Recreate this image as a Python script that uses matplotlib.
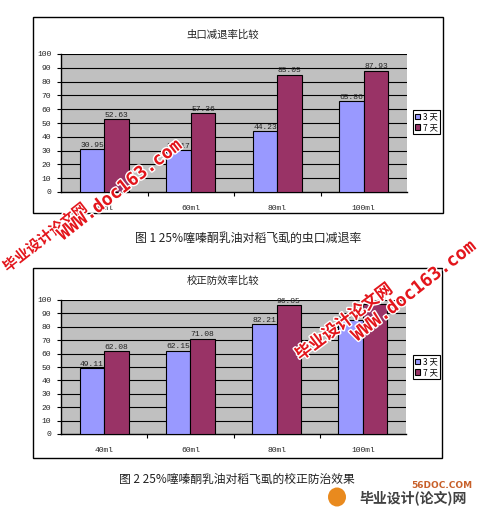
import matplotlib
matplotlib.use("Agg")
import matplotlib.pyplot as plt
import matplotlib.patches as mpatches
import matplotlib.patheffects as pe
import numpy as np

# ---------------- data ----------------
categories = ["40ml", "60ml", "80ml", "100ml"]
series_names = ["3 天", "7 天"]

chart1_title = "虫口减退率比较"
chart1_day3 = [30.95, 30.17, 44.23, 65.86]
chart1_day7 = [52.63, 57.36, 85.05, 87.93]
caption1 = "图 1 25%噻嗪酮乳油对稻飞虱的虫口减退率"

chart2_title = "校正防效率比较"
chart2_day3 = [49.11, 62.15, 82.21, 85.12]
chart2_day7 = [62.08, 71.08, 96.05, 97.31]
caption2 = "图 2 25%噻嗪酮乳油对稻飞虱的校正防治效果"

yticks = [0, 10, 20, 30, 40, 50, 60, 70, 80, 90, 100]

# ---------------- style ----------------
W, H = 484, 511
CJK = ["Noto Sans CJK SC", "DejaVu Sans"]
MONO = "Liberation Mono"
C3 = "#9999FF"
C7 = "#993366"
PLOT_BG = "#C0C0C0"

fig = plt.figure(figsize=(W / 100, H / 100), dpi=100)
fig.patch.set_facecolor("white")


def fx(px):
    return px / W


def fy(py):
    return 1 - py / H


def draw_chart(box, plot, title, title_xy, v3, v7, legend_box):
    x0, y0, x1, y1 = box
    fig.add_artist(mpatches.Rectangle((fx(x0), fy(y1)), fx(x1) - fx(x0), fy(y0) - fy(y1),
                                      transform=fig.transFigure, facecolor="white",
                                      edgecolor="black", lw=1.0, zorder=0))
    px0, py0, px1, py1 = plot
    ax = fig.add_axes([fx(px0), fy(py1), fx(px1) - fx(px0), fy(py0) - fy(py1)])
    ax.set_facecolor(PLOT_BG)
    x = np.arange(len(categories))
    w = 0.283
    b3 = ax.bar(x - w / 2, v3, w, color=C3, edgecolor="black", lw=0.8, zorder=3, label=series_names[0])
    b7 = ax.bar(x + w / 2, v7, w, color=C7, edgecolor="black", lw=0.8, zorder=3, label=series_names[1])
    for bars, vals in ((b3, v3), (b7, v7)):
        for r, v in zip(bars, vals):
            ax.annotate(f"{v:.2f}", (r.get_x() + r.get_width() / 2, v), xytext=(0, 0.2),
                        textcoords="offset points", ha="center", va="bottom",
                        fontsize=5.8, family=MONO, color="#222222", zorder=4)
    ax.set_xlim(-0.5, len(categories) - 0.5)
    ax.set_ylim(0, 100)
    ax.set_yticks(yticks)
    ax.set_yticklabels([str(t) for t in yticks], family=MONO, fontsize=5.8, color="#222222")
    for t in yticks[1:]:
        ax.axhline(t, color="black", lw=0.8, zorder=1)
    ax.set_xticks(x)
    ax.set_xticklabels(categories, family=MONO, fontsize=5.8, color="#222222")
    ax.set_xticks(x[:-1] + 0.5, minor=True)
    ax.tick_params(axis="x", which="major", length=0, pad=9)
    ax.tick_params(axis="x", which="minor", length=3, width=0.8, direction="out")
    ax.tick_params(axis="y", length=3, width=0.8, pad=4)
    for s in ("top", "right"):
        ax.spines[s].set_visible(False)
    ax.spines["left"].set_linewidth(1.0)
    ax.spines["bottom"].set_linewidth(1.0)
    fig.text(fx(title_xy[0]), fy(title_xy[1]), title, ha="center", va="center",
             fontsize=7.5, family=CJK, color="#222222")
    lx, ly = legend_box
    leg = ax.legend(loc="center left", bbox_to_anchor=(fx(lx), fy(ly)),
                    bbox_transform=fig.transFigure, prop={"family": CJK, "size": 6},
                    handlelength=0.6, handleheight=0.6, borderpad=0.25,
                    handletextpad=0.3, labelspacing=0.2, borderaxespad=0,
                    fancybox=False, framealpha=1, edgecolor="black")
    leg.get_frame().set_linewidth(0.8)
    return ax


draw_chart((33, 17, 443, 213), (61, 54, 407, 192), chart1_title, (223, 35),
           chart1_day3, chart1_day7, (413, 122))
fig.text(fx(248), fy(238), caption1, ha="center", va="center", fontsize=8.6,
         family=CJK, color="#222222")

draw_chart((33, 268, 442, 458), (61, 300, 406, 434), chart2_title, (223, 281),
           chart2_day3, chart2_day7, (413, 367))
fig.text(fx(237), fy(479), caption2, ha="center", va="center", fontsize=8.5,
         family=CJK, color="#222222")

# ---------------- watermarks ----------------
wm_color = "#E3161C"
stroke = [pe.withStroke(linewidth=2, foreground="white")]
wm = [
    ("毕业设计论文网", (45, 237), 38, CJK, 10.5),
    ("WWW.doc163.com", (120, 190), 38, ["DejaVu Sans Mono"], 13),
    ("毕业设计论文网", (344, 322), 37, CJK, 12),
    ("WWW.doc163.com", (414, 291), 38, ["DejaVu Sans Mono"], 13),
]
for txt, (cx, cy), ang, fam, fs in wm:
    fig.text(fx(cx), fy(cy), txt, ha="center", va="center", rotation=ang,
             rotation_mode="anchor", fontsize=fs, fontweight="bold", family=fam,
             color=wm_color, path_effects=stroke, zorder=10)

# bottom-right site logo
fig.add_artist(mpatches.Circle((fx(337), fy(497)), 9 / W, transform=fig.transFigure,
                               facecolor="#E98A1E", edgecolor="none", zorder=9))
fig.text(fx(442), fy(486), "56DOC.COM", ha="center", va="center", fontsize=6.5,
         fontweight="bold", family=["DejaVu Sans"], color="#C8602A", zorder=10)
fig.text(fx(413), fy(498), "毕业设计(论文)网", ha="center", va="center", fontsize=10,
         fontweight="bold", family=CJK, color="#404040", zorder=10)

fig.savefig("out.png", dpi=100, facecolor="white")
